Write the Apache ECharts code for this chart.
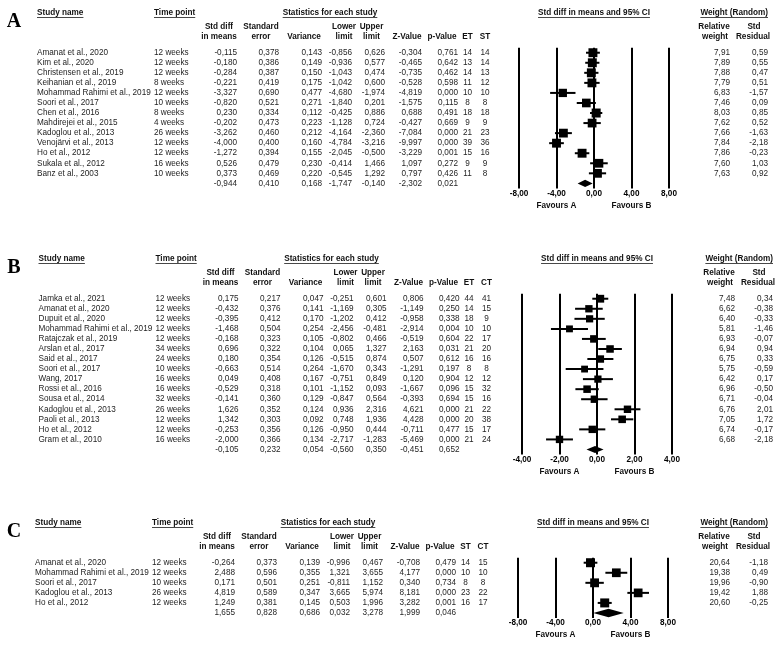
<!DOCTYPE html>
<html><head><meta charset="utf-8">
<script src="https://cdn.jsdelivr.net/npm/echarts@6/dist/echarts.min.js"></script>
<style>html,body{margin:0;padding:0;background:#fff}#c{width:776px;height:645px}</style>
</head><body><div id="c"></div>
<script>
// ---------------- Panel A ----------------
const aStudies = ['Amanat et al., 2020','Kim et al., 2020','Christensen et al., 2019','Keihanian et al., 2019','Mohammad Rahimi et al., 2019','Soori et al., 2017','Chen et al., 2016','Mahdirejei et al., 2015','Kadoglou et al., 2013','Venojärvi et al., 2013','Ho et al., 2012','Sukala et al., 2012','Banz et al., 2003'];
const aWeeks = [12,12,12,8,12,10,8,4,26,12,12,16,10];
const aSd  = [-0.115,-0.180,-0.284,-0.221,-3.327,-0.820,0.230,-0.202,-3.262,-4.000,-1.272,0.526,0.373];
const aSe  = [0.378,0.386,0.387,0.419,0.690,0.521,0.334,0.473,0.460,0.400,0.394,0.479,0.469];
const aVar = [0.143,0.149,0.150,0.175,0.477,0.271,0.112,0.223,0.212,0.160,0.155,0.230,0.220];
const aLo  = [-0.856,-0.936,-1.043,-1.042,-4.680,-1.840,-0.425,-1.128,-4.164,-4.784,-2.045,-0.414,-0.545];
const aUp  = [0.626,0.577,0.474,0.600,-1.974,0.201,0.886,0.724,-2.360,-3.216,-0.500,1.466,1.292];
const aZ   = [-0.304,-0.465,-0.735,-0.528,-4.819,-1.575,0.688,-0.427,-7.084,-9.997,-3.229,1.097,0.797];
const aP   = [0.761,0.642,0.462,0.598,0.000,0.115,0.491,0.669,0.000,0.000,0.001,0.272,0.426];
const aN1  = [14,13,14,11,10,8,18,9,21,39,15,9,11];
const aN2  = [14,14,13,12,10,8,18,9,23,36,16,9,8];
const aRel = [7.91,7.89,7.88,7.79,6.83,7.46,8.03,7.62,7.66,7.84,7.86,7.60,7.63];
const aRes = [0.59,0.55,0.47,0.51,-1.57,0.09,0.85,0.52,-1.63,-2.18,-0.23,1.03,0.92];
const aSummary = [-0.944,0.410,0.168,-1.747,-0.140,-2.302,0.021]; // sd, se, var, lo, up, z, p
const aTicks = [-8,-4,0,4,8];
const aFavours = [-4,4];
const aCountLabels = ['ET','ST'];

// ---------------- Panel B ----------------
const bStudies = ['Jamka et al., 2021','Amanat et al., 2020','Dupuit et al., 2020','Mohammad Rahimi et al., 2019','Ratajczak et al., 2019','Arslan et al., 2017','Said et al., 2017','Soori et al., 2017','Wang, 2017','Rossi et al., 2016','Sousa et al., 2014','Kadoglou et al., 2013','Paoli et al., 2013','Ho et al., 2012','Gram et al., 2010'];
const bWeeks = [12,12,12,12,12,34,24,10,16,16,32,26,12,12,16];
const bSd  = [0.175,-0.432,-0.395,-1.468,-0.168,0.696,0.180,-0.663,0.049,-0.529,-0.141,1.626,1.342,-0.253,-2.000];
const bSe  = [0.217,0.376,0.412,0.504,0.323,0.322,0.354,0.514,0.408,0.318,0.360,0.352,0.303,0.356,0.366];
const bVar = [0.047,0.141,0.170,0.254,0.105,0.104,0.126,0.264,0.167,0.101,0.129,0.124,0.092,0.126,0.134];
const bLo  = [-0.251,-1.169,-1.202,-2.456,-0.802,0.065,-0.515,-1.670,-0.751,-1.152,-0.847,0.936,0.748,-0.950,-2.717];
const bUp  = [0.601,0.305,0.412,-0.481,0.466,1.327,0.874,0.343,0.849,0.093,0.564,2.316,1.936,0.444,-1.283];
const bZ   = [0.806,-1.149,-0.958,-2.914,-0.519,2.163,0.507,-1.291,0.120,-1.667,-0.393,4.621,4.428,-0.711,-5.469];
const bP   = [0.420,0.250,0.338,0.004,0.604,0.031,0.612,0.197,0.904,0.096,0.694,0.000,0.000,0.477,0.000];
const bN1  = [44,14,18,10,22,21,16,8,12,15,15,21,20,15,21];
const bN2  = [41,15,9,10,17,20,16,8,12,32,16,22,38,17,24];
const bRel = [7.48,6.62,6.40,5.81,6.93,6.94,6.75,5.75,6.42,6.96,6.71,6.76,7.05,6.74,6.68];
const bRes = [0.34,-0.38,-0.33,-1.46,-0.07,0.94,0.33,-0.59,0.17,-0.50,-0.04,2.01,1.72,-0.17,-2.18];
const bSummary = [-0.105,0.232,0.054,-0.560,0.350,-0.451,0.652];
const bTicks = [-4,-2,0,2,4];
const bFavours = [-2,2];
const bCountLabels = ['ET','CT'];

// ---------------- Panel C ----------------
const cStudies = ['Amanat et al., 2020','Mohammad Rahimi et al., 2019','Soori et al., 2017','Kadoglou et al., 2013','Ho et al., 2012'];
const cWeeks = [12,12,10,26,12];
const cSd  = [-0.264,2.488,0.171,4.819,1.249];
const cSe  = [0.373,0.596,0.501,0.589,0.381];
const cVar = [0.139,0.355,0.251,0.347,0.145];
const cLo  = [-0.996,1.321,-0.811,3.665,0.503];
const cUp  = [0.467,3.655,1.152,5.974,1.996];
const cZ   = [-0.708,4.177,0.340,8.181,3.282];
const cP   = [0.479,0.000,0.734,0.000,0.001];
const cN1  = [14,10,8,23,16];
const cN2  = [15,10,8,22,17];
const cRel = [20.64,19.38,19.96,19.42,20.60];
const cRes = [-1.18,0.49,-0.90,1.88,-0.25];
const cSummary = [1.655,0.828,0.686,0.032,3.278,1.999,0.046];
const cTicks = [-8,-4,0,4,8];
const cFavours = [-4,4];
const cCountLabels = ['ST','CT'];

// ---------------- layout / style ----------------
const FONT = '"Liberation Sans", Arial, sans-serif';
const BODY = '8.2px ' + FONT;
const BOLD = 'bold 8.2px ' + FONT;
const PITCH = 10.05;
const COL_NAME = 37, COL_TIME = 154;
const STAT_R = [237, 279, 322, 352, 385, 422, 458];
const HDR_C = [219, 261, 304, 344, 371.5, 407, 442];
const N1C = 467.5, N2C = 485, STATS_HDR_C = 330;

const panels = [
  {letter:'A', studies:aStudies, weeks:aWeeks, cols:[aSd,aSe,aVar,aLo,aUp,aZ,aP], n1:aN1, n2:aN2, rel:aRel, res:aRes,
   summary:aSummary, ticks:aTicks, favours:aFavours, countLabels:aCountLabels,
   top:47.7, left:519, width:150, tdx:0, relR:730, resR:768, sq:9, dh:3.6},
  {letter:'B', studies:bStudies, weeks:bWeeks, cols:[bSd,bSe,bVar,bLo,bUp,bZ,bP], n1:bN1, n2:bN2, rel:bRel, res:bRes,
   summary:bSummary, ticks:bTicks, favours:bFavours, countLabels:bCountLabels,
   top:293.7, left:522, width:150, tdx:1.5, relR:735, resR:773, sq:7.8, dh:3.6},
  {letter:'C', studies:cStudies, weeks:cWeeks, cols:[cSd,cSe,cVar,cLo,cUp,cZ,cP], n1:cN1, n2:cN2, rel:cRel, res:cRes,
   summary:cSummary, ticks:cTicks, favours:cFavours, countLabels:cCountLabels,
   top:557.7, left:518, width:150, tdx:-2, relR:730, resR:768, sq:9, dh:4.2}
];

const fmt = (v, d) => v.toFixed(d).replace('.', ',');
const mctx = document.createElement('canvas').getContext('2d');
function measure(t, font) { mctx.font = font; return mctx.measureText(t).width; }

function txt(x, y, text, align, font, fill) {
  return {type:'text', x:x, y:y, silent:true,
    style:{text:text, font:font || BODY, fill:fill || '#1e1e1e', align:align, textAlign:align,
           verticalAlign:'middle', textVerticalAlign:'middle'}};
}

const graphics = [];
function underlined(x, y, text, align) {
  graphics.push(txt(x, y, text, align, BOLD, '#111'));
  const w = measure(text, BOLD);
  const x0 = align === 'left' ? x : align === 'right' ? x - w : x - w / 2;
  graphics.push({type:'line', silent:true, shape:{x1:x0, y1:y + 4.8, x2:x0 + w, y2:y + 4.8},
    style:{stroke:'#333', lineWidth:0.9}});
}

const grids = [], xAxes = [], yAxes = [], series = [];

panels.forEach((p, i) => {
  const N = p.studies.length;
  const dx = p.tdx;
  const hy = p.top - 35, l1 = p.top - 20.5, l2 = p.top - 10.5;

  // headers
  graphics.push(txt(14, p.top - 25.5, p.letter, 'center', 'bold 20px "Liberation Serif", "Times New Roman", serif', '#000'));
  underlined(COL_NAME + dx, hy, 'Study name', 'left');
  underlined(COL_TIME + dx, hy, 'Time point', 'left');
  underlined(STATS_HDR_C + dx, hy, 'Statistics for each study', 'center');
  underlined(p.left + p.width / 2, hy, 'Std diff in means and 95% CI', 'center');
  underlined(p.resR, hy, 'Weight (Random)', 'right');
  const hdr = [['Std diff','in means'],['Standard','error'],[null,'Variance'],['Lower','limit'],['Upper','limit'],[null,'Z-Value'],[null,'p-Value']];
  hdr.forEach((h, k) => {
    if (h[0]) graphics.push(txt(HDR_C[k] + dx, l1, h[0], 'center', BOLD, '#111'));
    graphics.push(txt(HDR_C[k] + dx, l2, h[1], 'center', BOLD, '#111'));
  });
  graphics.push(txt(N1C + dx, l2, p.countLabels[0], 'center', BOLD, '#111'));
  graphics.push(txt(N2C + dx, l2, p.countLabels[1], 'center', BOLD, '#111'));
  graphics.push(txt(p.relR - 16, l1, 'Relative', 'center', BOLD, '#111'));
  graphics.push(txt(p.relR - 15, l2, 'weight', 'center', BOLD, '#111'));
  graphics.push(txt(p.resR - 14, l1, 'Std', 'center', BOLD, '#111'));
  graphics.push(txt(p.resR - 15, l2, 'Residual', 'center', BOLD, '#111'));

  const tk = p.ticks;
  grids.push({left:p.left, top:p.top, width:p.width, height:(N + 1) * PITCH, containLabel:false, outerBoundsMode:'none'});
  xAxes.push({type:'value', gridIndex:i, min:tk[0], max:tk[tk.length - 1], interval:tk[1] - tk[0],
    axisLine:{show:false}, axisTick:{show:false},
    splitLine:{show:true, lineStyle:{color:'#000', width:2}},
    axisLabel:{show:true, showMinLabel:true, showMaxLabel:true, margin:1, color:'#000', fontSize:8.2,
      fontWeight:'bold', fontFamily:FONT, formatter:v => fmt(v, 2)}});
  const rows = [];
  for (let r = 0; r <= N; r++) rows.push(String(r));
  yAxes.push({type:'category', gridIndex:i, data:rows, inverse:true, show:false});

  // forest marks
  const fdata = p.studies.map((s, r) => [p.cols[0][r], p.cols[3][r], p.cols[4][r], r, p.rel[r], 0]);
  fdata.push([p.summary[0], p.summary[3], p.summary[4], N, 0, 1]);
  const wmax = Math.max.apply(null, p.rel);
  series.push({type:'custom', coordinateSystem:'cartesian2d', xAxisIndex:i, yAxisIndex:i, clip:false,
    encode:{x:[0,1,2], y:3}, data:fdata, silent:true,
    renderItem:(params, api) => {
      const sd = api.value(0), lo = api.value(1), up = api.value(2), row = api.value(3), w = api.value(4), isSum = api.value(5);
      const c = api.coord([sd, row]), cl = api.coord([lo, row]), cu = api.coord([up, row]);
      if (isSum) {
        const h = p.dh;
        return {type:'polygon', shape:{points:[[cl[0], c[1]], [c[0], c[1] - h], [cu[0], c[1]], [c[0], c[1] + h]]},
          style:{fill:'#000'}};
      }
      const s = p.sq * Math.sqrt(w / wmax);
      return {type:'group', children:[
        {type:'line', shape:{x1:cl[0], y1:c[1], x2:cu[0], y2:c[1]}, style:{stroke:'#000', lineWidth:2}},
        {type:'rect', shape:{x:c[0] - s / 2, y:c[1] - s / 2, width:s, height:s}, style:{fill:'#000'}}
      ]};
    }});

  // table text rows
  series.push({type:'custom', coordinateSystem:'cartesian2d', xAxisIndex:i, yAxisIndex:i, clip:false, silent:true,
    encode:{x:0, y:1}, data:rows.map((r, k) => [0, k]),
    renderItem:(params, api) => {
      const row = api.value(1);
      const y = api.coord([0, row])[1];
      const isSum = row === N;
      const kids = [];
      if (!isSum) {
        kids.push(txt(COL_NAME + dx, y, p.studies[row], 'left'));
        kids.push(txt(COL_TIME + dx, y, p.weeks[row] + ' weeks', 'left'));
      }
      const vals = isSum ? p.summary : p.cols.map(c => c[row]);
      vals.forEach((v, k) => kids.push(txt(STAT_R[k] + dx, y, fmt(v, 3), 'right')));
      if (!isSum) {
        kids.push(txt(N1C + dx, y, String(p.n1[row]), 'center'));
        kids.push(txt(N2C + dx, y, String(p.n2[row]), 'center'));
        kids.push(txt(p.relR, y, fmt(p.rel[row], 2), 'right'));
        kids.push(txt(p.resR, y, fmt(p.res[row], 2), 'right'));
      }
      return {type:'group', children:kids};
    }});

  // favours labels
  series.push({type:'custom', coordinateSystem:'cartesian2d', xAxisIndex:i, yAxisIndex:i, clip:false, silent:true,
    encode:{x:0, y:1}, data:[[p.favours[0], 0, 'Favours A'], [p.favours[1], 0, 'Favours B']],
    dimensions:['x','y',{name:'t', type:'ordinal'}],
    renderItem:(params, api) => {
      const x = api.coord([api.value(0), 0])[0];
      const cs = params.coordSys;
      const label = params.dataIndex === 0 ? 'Favours A' : 'Favours B';
      return txt(x, cs.y + cs.height + 17, label, 'center', BOLD, '#111');
    }});
});

const chart = echarts.init(document.getElementById('c'), null, {renderer:'canvas'});
chart.setOption({
  backgroundColor:'#fff',
  animation:false,
  grid:grids, xAxis:xAxes, yAxis:yAxes, series:series,
  graphic:{elements:graphics}
});
</script>
</body></html>
